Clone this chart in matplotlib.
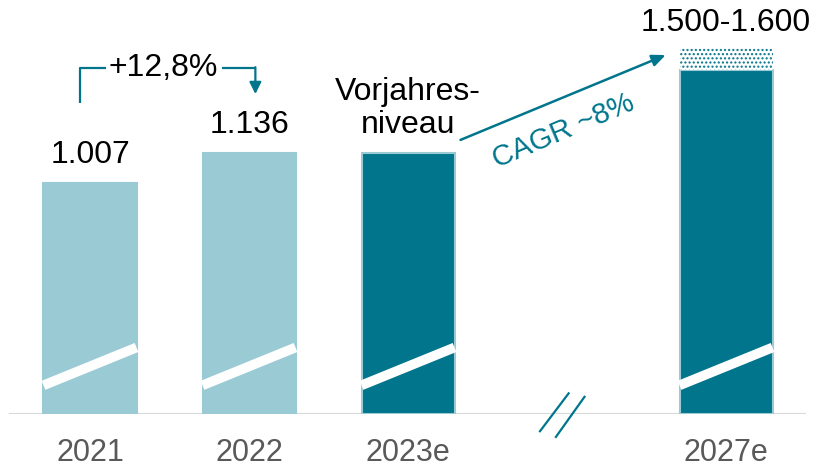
import matplotlib.pyplot as plt
import numpy as np

plt.rcParams['font.family'] = ['Liberation Sans', 'DejaVu Sans']

# data
years = ["2021", "2022", "2023e", "2027e"]
positions = [0, 1, 2, 4]
values = [1007, 1136, 1136, 1500]
range_top = 1600
value_labels = ["1.007", "1.136", "Vorjahres-\nniveau", "1.500-1.600"]
growth_label = "+12,8%"
cagr_label = "CAGR ~8%"

LIGHT = "#9acbd5"
DARK = "#00758c"

fig = plt.figure(figsize=(8.17, 4.68), dpi=100)
ax = fig.add_axes([0, 54 / 468, 1, 414 / 468])
ax.set_xlim(-0.566, 4.572)
ax.set_ylim(0, 1805)
ax.axis("off")

w = 0.585
colors = [LIGHT, LIGHT, DARK, DARK]
for i, (p, v) in enumerate(zip(positions, values)):
    edge = LIGHT if colors[i] == DARK else colors[i]
    ax.bar(p, v, width=w, color=colors[i], edgecolor=edge, linewidth=1.5, zorder=2)
    # white axis-break band
    ax.plot([p - w / 2, p + w / 2], [125, 290], color="white", lw=7,
            solid_capstyle="butt", zorder=3)
    ax.text(p, -105, years[i], ha="center", va="top", fontsize=22, color="#595959")

# dotted range on top of the 2027e bar
ax.bar(positions[3], range_top - values[3], bottom=values[3], width=w,
       color="white", edgecolor=DARK, hatch="....", linewidth=0, zorder=2)

# value labels
ax.text(positions[0], values[0] + 55, value_labels[0], ha="center", va="bottom", fontsize=23)
ax.text(positions[1], values[1] + 60, value_labels[1], ha="center", va="bottom", fontsize=23)
ax.text(positions[2], values[2] + 60, value_labels[2], ha="center", va="bottom",
        fontsize=23, linespacing=1.1)
ax.text(positions[3], range_top + 38, value_labels[3], ha="center", va="bottom", fontsize=23)

# baseline
ax.axhline(0, xmin=10 / 817, xmax=805 / 817, color="#d9d9d9", lw=1.5, zorder=1)

# growth bracket 2021 -> 2022
yb = 1508
ax.plot([-0.063, -0.063, 0.1], [1356, yb, yb], color=DARK, lw=1.6, solid_capstyle="butt")
ax.plot([0.83, 1.04], [yb, yb], color=DARK, lw=1.6, solid_capstyle="butt")
ax.annotate("", xy=(1.04, 1395), xytext=(1.04, yb + 4),
            arrowprops=dict(arrowstyle="-|>,head_width=0.35,head_length=0.7",
                            color=DARK, lw=1.6, shrinkA=0, shrinkB=0))
ax.text(0.46, yb, growth_label, ha="center", va="center", fontsize=23)

# CAGR arrow
ax.annotate("", xy=(3.62, 1565), xytext=(2.33, 1195),
            arrowprops=dict(arrowstyle="-|>,head_width=0.35,head_length=0.8",
                            color=DARK, lw=1.8, shrinkA=0, shrinkB=0))
ax.text(2.98, 1235, cagr_label, ha="center", va="center", fontsize=21,
        color=DARK, rotation=23)

# x-axis break marks
for dx in [0, 0.1]:
    ax.plot([2.83 + dx, 3.01 + dx], [-75 - dx * 250, 90 - dx * 150], color=DARK, lw=1.6,
            clip_on=False)

fig.savefig("out.png", dpi=100)
